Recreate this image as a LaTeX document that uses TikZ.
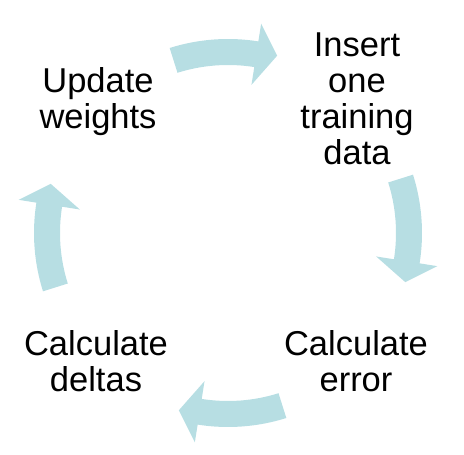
\documentclass[tikz,border=0pt]{standalone}
\usepackage{fontspec}
\setmainfont{Liberation Sans}
\definecolor{arrowteal}{RGB}{183,222,227}
\tikzset{
  lbl/.style={align=center, inner sep=0pt, font=\fontsize{34.5}{36}\selectfont, text=black},
  cyclearrow/.style={fill=arrowteal, draw=none}
}
\newcommand{\cyclearr}[1]{%
  \fill[cyclearrow] (#1+17.5:194) arc[start angle=#1+17.5, end angle=#1-9, radius=194]
    -- (#1-9:212) -- (#1-15.5:184) -- (#1-9:150) -- (#1-9:168)
    arc[start angle=#1-9, end angle=#1+17.5, radius=168] -- cycle;}
\begin{document}
\begin{tikzpicture}[x=1pt,y=1pt]
\useasboundingbox (0,0) rectangle (464,455);
\begin{scope}[shift={(228,222)}]
  \cyclearr{90}
  \cyclearr{0}
  \cyclearr{-90}
  \cyclearr{180}
\end{scope}
\node[lbl] (insert) at (357,356) {Insert\\one\\training\\data};
\node[lbl] (update) at (98,353) {Update\\weights};
\node[lbl] (deltas) at (96,94) {Calculate\\deltas};
\node[lbl] (error) at (356,94) {Calculate\\error};
\end{tikzpicture}
\end{document}
